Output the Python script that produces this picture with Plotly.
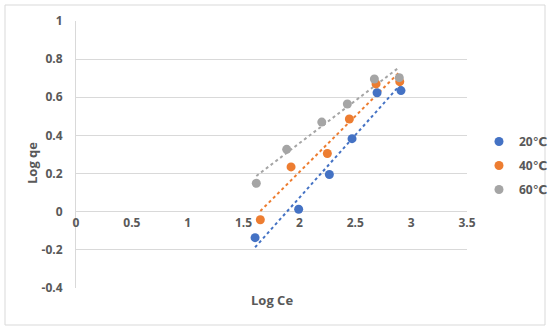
import numpy as np
import plotly.graph_objects as go

# Data
series_names = ["20℃", "40℃", "60℃"]
x_20 = [1.603, 1.993, 2.268, 2.471, 2.695, 2.909]
y_20 = [-0.136, 0.013, 0.195, 0.383, 0.624, 0.635]
x_40 = [1.650, 1.925, 2.250, 2.447, 2.686, 2.898]
y_40 = [-0.042, 0.235, 0.305, 0.486, 0.670, 0.682]
x_60 = [1.614, 1.886, 2.200, 2.429, 2.671, 2.894]
y_60 = [0.149, 0.327, 0.470, 0.565, 0.696, 0.703]
colors = ["#4472C4", "#ED7D31", "#A5A5A5"]

x_ticks = [0, 0.5, 1, 1.5, 2, 2.5, 3, 3.5]
y_ticks = [-0.4, -0.2, 0, 0.2, 0.4, 0.6, 0.8, 1]
x_range = [0, 3.5]
y_range = [-0.4, 1.0]

W, H = 550, 331
ml, mr, mt, mb = 76, 83, 21, 43
pw, ph = W - ml - mr, H - mt - mb

font_family = "Open Sans, Liberation Sans, DejaVu Sans, Noto Sans CJK SC"
tick_color = "#595959"

fig = go.Figure()

datasets = [(x_20, y_20), (x_40, y_40), (x_60, y_60)]
for i, (xs, ys) in enumerate(datasets):
    xs_a = np.array(xs)
    ys_a = np.array(ys)
    slope, intercept = np.polyfit(xs_a, ys_a, 1)
    fx = np.array([xs_a.min(), xs_a.max()])
    fy = slope * fx + intercept
    fig.add_trace(go.Scatter(
        x=fx, y=fy, mode="lines",
        line=dict(color=colors[i], width=2, dash="dot"),
        showlegend=False, hoverinfo="skip",
    ))

for i, (xs, ys) in enumerate(datasets):
    fig.add_trace(go.Scatter(
        x=xs, y=ys, mode="markers", name=series_names[i],
        legendgroup=series_names[i],
        marker=dict(color=colors[i], size=9),
    ))

# convert pixel to paper coords for decorations
def px_to_paper_x(px):
    return (px - ml) / pw

def px_to_paper_y(py):
    return (H - mb - py) / ph

tick_font = dict(family=font_family, size=12, color=tick_color, weight="bold")

fig.update_layout(
    width=W, height=H,
    margin=dict(l=ml, r=mr, t=mt, b=mb, autoexpand=False),
    paper_bgcolor="white", plot_bgcolor="white",
    font=dict(family=font_family, color=tick_color, size=12),
    xaxis=dict(
        range=x_range, tickvals=x_ticks,
        ticktext=[f"{v:g}" for v in x_ticks],
        showgrid=False, zeroline=False, showline=False,
        anchor="free",
        position=(0 - y_range[0]) / (y_range[1] - y_range[0]),
        tickfont=tick_font,
        ticks="", ticklabelstandoff=2,
    ),
    yaxis=dict(
        range=y_range, tickvals=y_ticks,
        ticktext=[f"{v:g}" for v in y_ticks],
        showgrid=True, gridcolor="#D9D9D9", gridwidth=1,
        zeroline=True, zerolinecolor="#D9D9D9", zerolinewidth=1,
        showline=True, linecolor="#D9D9D9", linewidth=1,
        tickfont=tick_font,
        ticks="", ticklabelstandoff=10, domain=[0, 1],
    ),
    legend=dict(
        x=px_to_paper_x(479), y=px_to_paper_y(127),
        xanchor="left", yanchor="top",
        font=tick_font,
        bgcolor="rgba(0,0,0,0)", tracegroupgap=5, itemwidth=30,
    ),
    showlegend=True,
    annotations=[
        dict(text="<b>Log Ce</b>", xref="paper", yref="paper",
             x=0.5, y=px_to_paper_y(300), xanchor="center", yanchor="middle",
             showarrow=False, font=dict(size=13, color=tick_color, family=font_family)),
        dict(text="<b>Log qe</b>", xref="paper", yref="paper",
             x=px_to_paper_x(32), y=px_to_paper_y(163), xanchor="center", yanchor="middle",
             textangle=-90, showarrow=False,
             font=dict(size=13, color=tick_color, family=font_family)),
    ],
    shapes=[
        dict(type="rect", xref="paper", yref="paper",
             x0=px_to_paper_x(5), x1=px_to_paper_x(545),
             y0=px_to_paper_y(5), y1=px_to_paper_y(325),
             line=dict(color="#D9D9D9", width=1)),
    ],
)

fig.write_html("out.html", config={"displayModeBar": False},
               post_script="document.body.style.margin='0';")
